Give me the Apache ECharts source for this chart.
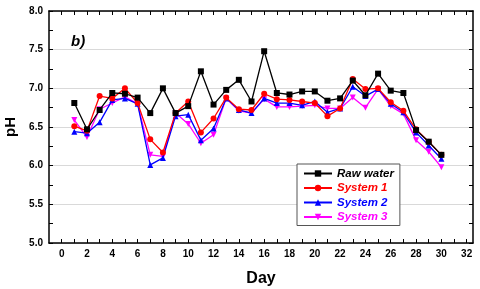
<!DOCTYPE html>
<html><head><meta charset="utf-8">
<script src="https://cdn.jsdelivr.net/npm/echarts@6/dist/echarts.min.js"></script>
<style>html,body{margin:0;padding:0;background:#fff}#c{width:480px;height:289px}</style>
</head><body><div id="c"></div>
<script>
var days = [1,2,3,4,5,6,7,8,9,10,11,12,13,14,15,16,17,18,19,20,21,22,23,24,25,26,27,28,29,30];
var rawWater = [6.81,6.47,6.72,6.94,6.93,6.88,6.68,7.00,6.68,6.77,7.22,6.79,6.98,7.11,6.83,7.48,6.94,6.92,6.96,6.96,6.84,6.87,7.10,6.91,7.19,6.97,6.94,6.46,6.31,6.14];
var system1 = [6.51,6.45,6.90,6.87,7.00,6.81,6.34,6.17,6.68,6.83,6.43,6.61,6.88,6.73,6.72,6.93,6.86,6.85,6.83,6.81,6.64,6.74,7.12,6.99,7.00,6.82,6.71,6.47,6.31,6.14];
var system2 = [6.44,6.42,6.56,6.85,6.87,6.80,6.01,6.10,6.64,6.66,6.33,6.48,6.87,6.72,6.68,6.87,6.81,6.81,6.78,6.83,6.69,6.74,7.02,6.90,6.99,6.80,6.69,6.43,6.26,6.09];
var system3 = [6.59,6.37,6.73,6.81,6.89,6.80,6.14,6.12,6.68,6.54,6.29,6.40,6.87,6.71,6.68,6.86,6.76,6.76,6.77,6.78,6.74,6.74,6.88,6.75,6.99,6.77,6.67,6.33,6.18,5.98];
var seriesNames = ['Raw water','System 1','System 2','System 3'];
var xLabelValues = [0,2,4,6,8,10,12,14,16,18,20,22,24,26,28,30,32];
var xTickValues = [0,1,2,3,4,5,6,7,8,9,10,11,12,13,14,15,16,17,18,19,20,21,22,23,24,25,26,27,28,29,30,31,32];

function pairs(v){ return days.map(function(d,i){ return [d, v[i]]; }); }
var colors = ['#000000','#ff0000','#0000ff','#ff00ff'];
var symbols = ['rect','circle','triangle','path://M0,0 L10,0 L5,9 Z'];
var sizes = [6,6,6,6];
var dataSets = [rawWater, system1, system2, system3];

var axisLine = {show:true, onZero:false, lineStyle:{color:'#000', width:1.5}};
var font = 'Liberation Sans, Arial, sans-serif';

var chart = echarts.init(document.getElementById('c'), null, {renderer:'canvas'});
chart.setOption({
  animation:false,
  textStyle:{fontFamily:font},
  grid:{left:49, right:7, top:11, bottom:46, containLabel:false, outerBoundsMode:'none'},
  title:{text:'b)', left:66, top:29, textStyle:{fontFamily:font, fontStyle:'italic', fontWeight:'bold', fontSize:15, color:'#000'}},
  xAxis:[{
    type:'value', min:-1, max:32.5, position:'bottom',
    name:'Day', nameLocation:'middle', nameGap:28,
    nameTextStyle:{fontFamily:font, fontWeight:'bold', fontSize:16, color:'#000'},
    axisLine:axisLine,
    axisTick:{show:true, inside:true, length:4, customValues:xTickValues, lineStyle:{color:'#000', width:1}},
    axisLabel:{show:true, customValues:xLabelValues, fontFamily:font, fontWeight:'bold', fontSize:10, color:'#000', margin:6},
    splitLine:{show:false}
  },{
    type:'value', min:-1, max:32.5, position:'top',
    axisLine:axisLine,
    axisTick:{show:true, inside:true, length:4, customValues:xTickValues, lineStyle:{color:'#000', width:1}},
    axisLabel:{show:false},
    splitLine:{show:false}
  }],
  yAxis:[{
    type:'value', min:5, max:8, interval:0.5, position:'left',
    name:'pH', nameLocation:'middle', nameGap:25, nameRotate:90,
    nameTextStyle:{fontFamily:font, fontWeight:'bold', fontSize:15, color:'#000'},
    axisLine:axisLine,
    axisTick:{show:true, inside:true, length:4, lineStyle:{color:'#000', width:1}},
    minorTick:{show:true, splitNumber:2, length:4, lineStyle:{color:'#000', width:1}},
    axisLabel:{formatter:function(v){return v.toFixed(1);}, fontFamily:font, fontWeight:'bold', fontSize:10, color:'#000', margin:6},
    splitLine:{show:true, lineStyle:{color:'#d9d9d9', width:1}}
  },{
    type:'value', min:5, max:8, interval:0.5, position:'right',
    axisLine:axisLine,
    axisTick:{show:true, inside:true, length:4, lineStyle:{color:'#000', width:1}},
    minorTick:{show:true, splitNumber:2, length:4, lineStyle:{color:'#000', width:1}},
    axisLabel:{show:false},
    splitLine:{show:false}
  }],
  legend:{
    orient:'vertical', left:297, top:164, width:104,
    padding:[3,6,2,6], itemGap:1.5, itemWidth:28, itemHeight:8,
    backgroundColor:'#fff', borderColor:'#555', borderWidth:1,
    textStyle:{fontFamily:font, fontStyle:'italic', fontWeight:'bold', fontSize:11.5, lineHeight:13},
    data:seriesNames.map(function(n,i){ return {name:n, textStyle:{color:colors[i]}}; })
  },
  series:seriesNames.map(function(n,i){
    return {
      name:n, type:'line', data:pairs(dataSets[i]),
      xAxisIndex:0, yAxisIndex:0,
      symbol:symbols[i], symbolSize:sizes[i],
      color:colors[i],
      lineStyle:{color:colors[i], width:1.3},
      itemStyle:{color:colors[i]},
      z: 10 - i
    };
  })
});
</script></body></html>
